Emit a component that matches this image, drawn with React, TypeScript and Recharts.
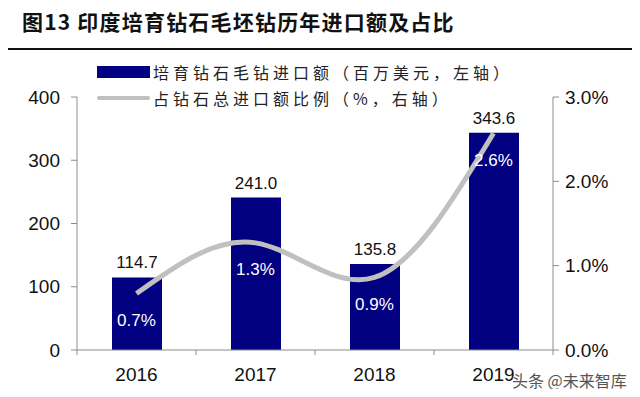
import React from 'react';
import { ComposedChart, Bar, Line, XAxis, YAxis, LabelList } from 'recharts';

const years = ['2016', '2017', '2018', '2019'];
const importAmount = [114.7, 241.0, 135.8, 343.6]; // 百万美元
const importShare = [0.67, 1.27, 0.86, 2.57]; // %，标签显示一位小数
const leftTicks = [0, 100, 200, 300, 400];
const rightTicks = [0, 1, 2, 3];

const BAR_COLOR = '#000080';
const LINE_COLOR = '#c0c0c0';
const AXIS_COLOR = '#8c8c8c';
const NUM_FONT = '"Liberation Sans", Arial, sans-serif';
const CJK_FONT = '"Noto Sans CJK SC", sans-serif';

const data = years.map((year, i) => ({
  year,
  amount: importAmount[i],
  ratio: importShare[i],
}));

// white % labels sitting under each line point
const ShareLabel = (props: any) => {
  const { x, y, value } = props;
  return (
    <text x={x} y={y + 28} fill="#fff" fontSize={17} fontFamily={NUM_FONT} textAnchor="middle" dominantBaseline="middle">
      {Number(value).toFixed(1)}%
    </text>
  );
};

// year label plus tick marks on the category boundaries (Excel style)
const YearTick = (props: any) => {
  const { x, y, payload, index, visibleTicksCount } = props;
  const half = payload.offset || 0;
  const isLast = index === visibleTicksCount - 1;
  return (
    <g>
      <line x1={x - half} x2={x - half} y1={y - 18} y2={y - 13} stroke={AXIS_COLOR} />
      {isLast && <line x1={x + half} x2={x + half} y1={y - 18} y2={y - 13} stroke={AXIS_COLOR} />}
      <text x={x} y={y} dy="0.71em" textAnchor="middle" fill="#111" fontSize={19} fontFamily={NUM_FONT}>
        {payload.value}
      </text>
    </g>
  );
};

const LegendBox = () => (
  <div style={{ fontFamily: CJK_FONT, fontSize: 16, color: '#222', letterSpacing: 4 }}>
    <div style={{ display: 'flex', alignItems: 'center', height: 24 }}>
      <span style={{ width: 53, height: 12, background: BAR_COLOR, marginRight: 3 }} />
      <span>培育钻石毛钻进口额（百万美元，左轴）</span>
    </div>
    <div style={{ display: 'flex', alignItems: 'center', height: 28 }}>
      <span style={{ width: 53, height: 4, background: LINE_COLOR, borderRadius: 2, marginRight: 3 }} />
      <span>占钻石总进口额比例（%，右轴）</span>
    </div>
  </div>
);

export default function App() {
  return (
    <div style={{ position: 'relative', width: 640, height: 397, margin: -8, background: '#fff', overflow: 'hidden' }}>
      <div style={{ position: 'absolute', left: 22, top: 6, fontFamily: CJK_FONT, fontWeight: 700, fontSize: 21, color: '#111', letterSpacing: 1.2 }}>
        图13 印度培育钻石毛坯钻历年进口额及占比
      </div>
      <div style={{ position: 'absolute', left: 8, right: 0, top: 48, height: 2, background: '#111' }} />
      <div style={{ position: 'absolute', left: 8, right: 0, top: 392, height: 2, background: '#111' }} />
      <div style={{ position: 'absolute', left: 97, top: 60 }}>
        <LegendBox />
      </div>
      <div style={{ position: 'absolute', left: 0, top: 0 }}>
        <ComposedChart width={640} height={397} data={data} margin={{ top: 97, right: 0, bottom: 0, left: 0 }}>
          <XAxis
            dataKey="year"
            height={47}
            tickLine={false}
            tickSize={0}
            tickMargin={18}
            axisLine={{ stroke: AXIS_COLOR }}
            tick={<YearTick />}
          />
          <YAxis
            yAxisId="l"
            width={77}
            domain={[0, 400]}
            ticks={leftTicks}
            tickSize={6}
            tickMargin={11}
            axisLine={{ stroke: AXIS_COLOR }}
            tickLine={{ stroke: AXIS_COLOR }}
            tick={{ fill: '#111', fontSize: 19, fontFamily: NUM_FONT }}
          />
          <YAxis
            yAxisId="r"
            orientation="right"
            width={87}
            domain={[0, 3]}
            ticks={rightTicks}
            tickSize={6}
            tickMargin={6}
            axisLine={{ stroke: AXIS_COLOR }}
            tickLine={{ stroke: AXIS_COLOR }}
            tickFormatter={(v: number) => v.toFixed(1) + '%'}
            tick={{ fill: '#111', fontSize: 19, fontFamily: NUM_FONT }}
          />
          <Bar yAxisId="l" dataKey="amount" fill={BAR_COLOR} barSize={50} isAnimationActive={false}>
            <LabelList
              dataKey="amount"
              position="top"
              offset={9}
              fill="#111"
              fontSize={17}
              fontFamily={NUM_FONT}
              formatter={(v: any) => Number(v).toFixed(1)}
            />
          </Bar>
          <Line
            yAxisId="r"
            type="natural"
            dataKey="ratio"
            stroke={LINE_COLOR}
            strokeWidth={5}
            dot={false}
            label={<ShareLabel />}
            isAnimationActive={false}
          />
        </ComposedChart>
      </div>
      <div style={{ position: 'absolute', left: 512, top: 368, fontFamily: CJK_FONT, fontSize: 16, color: '#555', textShadow: '0 0 2px #fff, 0 0 2px #fff' }}>
        头条 @未来智库
      </div>
    </div>
  );
}
